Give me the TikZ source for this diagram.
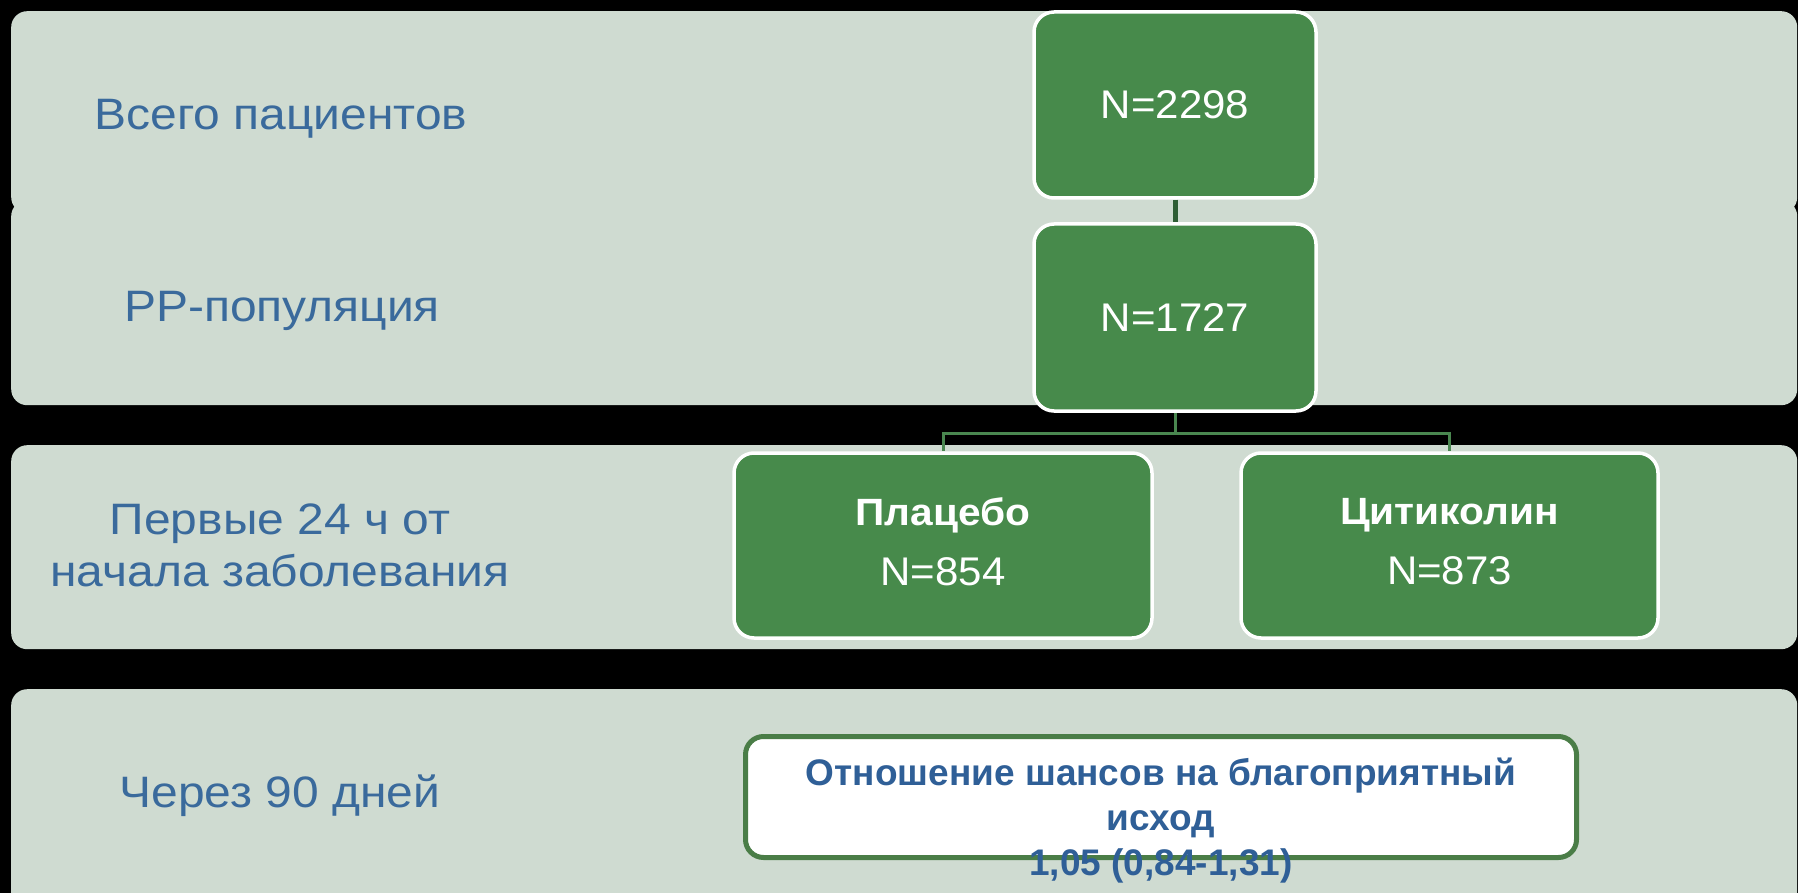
\documentclass[tikz,border=0pt]{standalone}
\usepackage{fontspec}
\setmainfont{Liberation Sans}
\newfontfamily\lblfont[FakeStretch=1.09]{Liberation Sans}
\newfontfamily\numfont[FakeStretch=1.05]{Liberation Sans}
\newfontfamily\ttlfont[FakeStretch=1.07]{Liberation Sans}
\definecolor{bandfill}{HTML}{CFDBD1}
\definecolor{boxgreen}{HTML}{478A4B}
\definecolor{labelblue}{HTML}{3A6A9C}
\definecolor{darkblue}{HTML}{2F5F97}
\definecolor{linegreen}{HTML}{4A8750}
\definecolor{darkline}{HTML}{2E5E35}
\definecolor{resborder}{HTML}{4A7D47}
\begin{document}
\begin{tikzpicture}[x=1pt,y=-1pt,
  band/.style={fill=bandfill, rounded corners=16pt, draw=none, anchor=north west, inner sep=0pt, minimum width=1786pt},
  gbox/.style={fill=boxgreen, draw=white, line width=3.5pt, rounded corners=20pt, text=white, align=center, inner sep=0pt, font=\numfont\fontsize{40}{60}\selectfont},
  lbl/.style={text=labelblue, font=\lblfont\fontsize{44}{52}\selectfont, inner sep=0pt, align=center},
  conn/.style={draw=linegreen, line width=3pt},
  topconn/.style={draw=darkline, line width=5pt},
  resbox/.style={fill=white, draw=resborder, line width=5pt, rounded corners=18pt, inner sep=0pt, minimum width=831pt, minimum height=121pt},
  restext/.style={text=darkblue, font=\bfseries\fontsize{37}{45}\selectfont, inner sep=0pt, align=center}
]
\useasboundingbox (0,0) rectangle (1798,893);
\fill[black] (0,0) rectangle (1798,893);

% bands
\node[band, minimum height=202pt] (band1) at (11,11) {};
\node[band, minimum height=205pt] (band2) at (11,200) {};
\node[band, minimum height=204pt] (band3) at (11,445) {};
\node[band, minimum height=220pt] (band4) at (11,689) {};

% band labels
\node[lbl, anchor=base] (l1) at (281,130) {Всего пациентов};
\node[lbl, anchor=base] (l2) at (282,321) {РР-популяция};
\node[lbl, anchor=north] (l3) at (280,503.5) {Первые 24 ч от\\начала заболевания};
\node[lbl, anchor=base] (l4) at (280,807) {Через 90 дней};

% green boxes
\coordinate (split) at (1175,433);
\node[gbox, minimum width=282pt, minimum height=186pt] (n1) at (1175,105) {N=2298};
\node[gbox, minimum width=282pt, minimum height=187pt] (n2) at (1175,317.5) {N=1727};
\node[gbox, minimum width=418pt, minimum height=185pt] (pl) at (943,545.5) {{\ttlfont\bfseries\fontsize{38}{60}\selectfont Плацебо}\\N=854\rule[-8pt]{0pt}{8pt}};
\node[gbox, minimum width=417pt, minimum height=185pt] (ct) at (1449.5,545.5) {{\ttlfont\bfseries\fontsize{38}{60}\selectfont Цитиколин}\\N=873\rule[-8pt]{0pt}{8pt}};

% connectors
\draw[topconn] (n1.south) -- (n2.north);
\draw[conn] (n2.south) -- (split) -| (pl.north);
\draw[conn] (split) -| (ct.north);

% result box
\node[resbox] (res) at (1161,797) {};
\node[restext, anchor=north] (rtext) at (1161,757.5) {Отношение шансов на благоприятный\\исход\\1,05 (0,84-1,31)};
\end{tikzpicture}
\end{document}
